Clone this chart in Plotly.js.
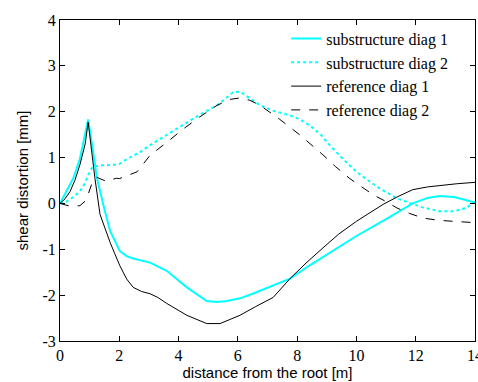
<!DOCTYPE html>
<html><head><meta charset="utf-8">
<script src="https://cdn.plot.ly/plotly-3.0.1.min.js"></script>
<style>html,body{margin:0;padding:0;background:#fff;}#chart{width:478px;height:382px;}</style>
</head><body><div id="chart"></div>
<script>
const sub1X = [0,0.22,0.45,0.67,0.95,1.1,1.25,1.45,1.69,2.02,2.25,2.47,3.04,3.6,4.28,4.95,5.3,5.63,6.07,6.5,7.0,7.76,8.4,9.0,10.0,11.0,11.9,12.4,12.8,13.3,13.7,14];
const sub1Y = [0,0.26,0.55,0.97,1.83,1.2,0.54,0.0,-0.6,-1.04,-1.15,-1.2,-1.29,-1.47,-1.83,-2.13,-2.15,-2.13,-2.07,-1.97,-1.84,-1.64,-1.36,-1.12,-0.71,-0.34,0.0,0.12,0.16,0.14,0.08,0.02];

const sub2X = [0,0.22,0.45,0.67,0.85,0.95,1.1,1.4,1.8,2.0,2.26,2.7,3.04,3.5,4.15,4.7,5.3,5.84,6.07,6.4,6.75,7.2,7.76,8.1,8.43,8.8,9.1,9.5,10.0,10.4,10.8,11.37,11.7,12.2,12.8,13.3,13.7,14];
const sub2Y = [0,0.04,0.14,0.26,0.45,0.62,0.8,0.83,0.84,0.86,0.97,1.12,1.27,1.45,1.7,1.93,2.14,2.42,2.44,2.3,2.14,2.02,1.92,1.83,1.7,1.5,1.27,1.0,0.69,0.5,0.32,0.11,0.03,-0.08,-0.17,-0.17,-0.1,0.04];

const ref1X = [0,0.17,0.34,0.5,0.67,0.85,0.95,1.05,1.18,1.35,1.52,1.69,1.85,2.02,2.25,2.47,2.75,3.04,3.3,3.6,4.28,4.95,5.4,5.8,6.07,6.6,7.19,7.76,8.3,8.87,9.4,10.0,10.5,10.9,11.4,11.9,12.4,12.8,13.4,14];
const ref1Y = [0,0.1,0.26,0.5,0.84,1.3,1.77,1.2,0.54,-0.24,-0.55,-0.85,-1.1,-1.36,-1.65,-1.83,-1.92,-1.97,-2.05,-2.18,-2.44,-2.62,-2.62,-2.52,-2.44,-2.25,-2.05,-1.64,-1.3,-0.97,-0.67,-0.39,-0.18,-0.02,0.15,0.3,0.36,0.39,0.43,0.46];

const ref2X = [0,0.34,0.67,0.85,0.95,1.1,1.24,1.57,1.9,2.0,2.6,3.04,3.6,4.15,4.7,5.3,5.74,6.07,6.4,6.75,7.4,8.1,8.87,9.3,9.78,10.2,10.56,11.0,11.37,11.8,12.25,12.8,13.26,13.6,13.93,14];
const ref2Y = [0,-0.06,-0.05,0.05,0.2,0.48,0.57,0.48,0.55,0.54,0.69,1.05,1.33,1.62,1.88,2.14,2.27,2.3,2.25,2.14,1.84,1.49,1.06,0.8,0.54,0.35,0.19,0.04,-0.1,-0.22,-0.32,-0.37,-0.39,-0.41,-0.42,-0.42];

const names = ['substructure diag 1','substructure diag 2','reference diag 1','reference diag 2'];
const xTicks = [0,2,4,6,8,10,12,14];
const yTicks = [-3,-2,-1,0,1,2,3,4];

const serif = '"Liberation Serif", "Times New Roman", Times, serif';
const sans = '"Liberation Sans", Arial, sans-serif';

const traces = [
  {x: sub1X, y: sub1Y, name: names[0], mode: 'lines', line: {color: '#00ffff', width: 2}},
  {x: sub2X, y: sub2Y, name: names[1], mode: 'lines', line: {color: '#00ffff', width: 2, dash: 'dot'}},
  {x: ref1X, y: ref1Y, name: names[2], mode: 'lines', line: {color: '#000000', width: 1}},
  {x: ref2X, y: ref2Y, name: names[3], mode: 'lines', line: {color: '#000000', width: 1, dash: 'dash'}}
];

const axisCommon = {
  showline: true, linecolor: '#000', linewidth: 1, mirror: 'ticks',
  ticks: 'inside', ticklen: 5, tickcolor: '#000',
  showgrid: false, zeroline: false, ticklabeloverflow: 'allow',
  tickfont: {family: serif, size: 16, color: '#000'}
};

const layout = {
  width: 478, height: 382,
  margin: {l: 60, r: 3, t: 20, b: 41},
  paper_bgcolor: '#fff', plot_bgcolor: '#fff',
  showlegend: true,
  legend: {x: 0.545, y: 0.995, xanchor: 'left', yanchor: 'top', bgcolor: 'rgba(0,0,0,0)',
           font: {family: serif, size: 16, color: '#000'},
           tracegroupgap: 0},
  xaxis: Object.assign({}, axisCommon, {range: [0, 14], tickvals: xTicks, ticktext: xTicks.map(String),
    title: {text: 'distance from the root [m]', standoff: 2, font: {family: sans, size: 15, color: '#000'}}}),
  yaxis: Object.assign({}, axisCommon, {range: [-3, 4], tickvals: yTicks, ticktext: yTicks.map(String),
    title: {text: 'shear distortion [mm]', standoff: 10, font: {family: sans, size: 15, color: '#000'}}})
};

Plotly.newPlot('chart', traces, layout, {displayModeBar: false, staticPlot: true});
</script>
</body></html>
